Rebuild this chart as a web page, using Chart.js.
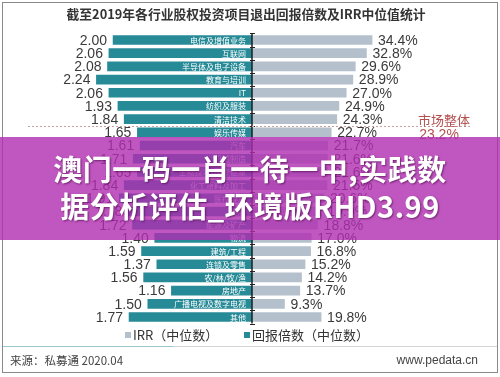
<!DOCTYPE html>
<html lang="zh">
<head>
    <meta charset="UTF-8">
    <title>截至2019年各行业股权投资项目退出回报倍数及IRR中位值统计</title>
    <script src="https://cdn.jsdelivr.net/npm/chart.js"></script>
    <style>
        html, body {
            margin: 0;
            padding: 0;
            background: #fff;
        }
        #wrap {
            position: relative;
            width: 500px;
            height: 377px;
        }
        #banner {
            position: absolute;
            left: 0;
            top: 137px;
            width: 500px;
            height: 103px;
            background: rgba(176, 44, 176, 0.8);
            color: #fff;
            font-family: "Noto Sans CJK SC", sans-serif;
            font-weight: bold;
            font-size: 29px;
            line-height: 37px;
            text-align: center;
            padding-top: 13px;
            box-sizing: border-box;
            text-shadow: 1px 1px 2px rgba(60, 0, 60, 0.6);
            letter-spacing: 0.5px;
        }
    </style>
</head>
<body>
<div id="wrap">
    <canvas id="chart" width="500" height="377"></canvas>
    <div id="banner">澳门一码一肖一待一中,实践数<br>据分析评估_环境版RHD3.99</div>
</div>
<script>
    // data
    const categories = ['电信及增值业务', '互联网', '半导体及电子设备', '教育与培训', 'IT', '纺织及服装', '清洁技术',
        '娱乐传媒', '汽车', '机械制造', '生物技术/医疗健康', '化工原料及加工', '医疗健康', '金融', '能源及矿产',
        '物流', '建筑/工程', '连锁及零售', '农/林/牧/渔', '房地产', '广播电视及数字电视', '其他'];
    const multiples = [2.00, 2.06, 2.08, 2.24, 2.06, 1.93, 1.84, 1.65, 1.61, 1.71, 1.65, 1.84, 1.91, 1.78, 1.72,
        1.40, 1.59, 1.37, 1.56, 1.16, 1.50, 1.77];
    const irr = [34.4, 32.8, 29.6, 28.9, 27.0, 24.9, 24.3, 22.7, 21.7, 21.6, 21.6, 21.5, 20.6, 19.9, 18.8,
        17.0, 16.8, 15.2, 14.2, 13.7, 9.3, 19.8];
    const marketIRR = 23.2;
    const marketRow = 6.5; // dashed line sits between 清洁技术 and 娱乐传媒

    // one multiple unit is drawn as wide as this many IRR points (left half of the butterfly)
    const MULT_TO_PCT = 19.9;

    const TEAL = '#268a97';
    const GREY = '#b5c0cd';
    const NUM_FONT = '"Liberation Sans", Arial, sans-serif';
    const CJK_FONT = '"Noto Sans CJK SC", sans-serif';

    const decorPlugin = {
        id: 'decor',
        afterDatasetsDraw(chart) {
            const ctx = chart.ctx;
            const x = chart.scales.x;
            const y = chart.scales.y;
            const area = chart.chartArea;
            const x0 = x.getPixelForValue(0);

            ctx.save();

            // value labels and category names
            ctx.textBaseline = 'middle';
            categories.forEach((name, i) => {
                const yc = y.getPixelForValue(i);
                const left = x.getPixelForValue(-multiples[i] * MULT_TO_PCT);
                const right = x.getPixelForValue(irr[i]);

                ctx.fillStyle = '#3a3a3a';
                ctx.font = '14px ' + NUM_FONT;
                ctx.textAlign = 'right';
                ctx.fillText(multiples[i].toFixed(2), left - 6, yc + 1);
                ctx.textAlign = 'left';
                ctx.fillText(irr[i].toFixed(1) + '%', right + 6, yc + 1);

                ctx.fillStyle = '#fff';
                ctx.font = '8px ' + CJK_FONT;
                ctx.textAlign = 'right';
                ctx.fillText(name, x0 - 6, yc + 0.5);
            });

            // centre axis with small ticks
            ctx.strokeStyle = '#222';
            ctx.lineWidth = 1.5;
            ctx.beginPath();
            ctx.moveTo(x0, area.top);
            ctx.lineTo(x0, area.bottom);
            ctx.stroke();
            ctx.lineWidth = 1;
            for (let i = 0; i <= categories.length; i++) {
                const yt = Math.round(y.getPixelForValue(i - 0.5)) + 0.5;
                ctx.beginPath();
                ctx.moveTo(x0 - 2, yt);
                ctx.lineTo(x0 + 3, yt);
                ctx.stroke();
            }

            // market overall line
            const ym = Math.round(y.getPixelForValue(marketRow)) + 0.5;
            ctx.strokeStyle = '#c7a0a0';
            ctx.setLineDash([2, 2]);
            ctx.beginPath();
            ctx.moveTo(28, ym);
            ctx.lineTo(472, ym);
            ctx.stroke();
            ctx.setLineDash([]);

            ctx.fillStyle = '#b45050';
            ctx.textAlign = 'center';
            ctx.font = '13px ' + CJK_FONT;
            ctx.fillText('市场整体', 444, ym - 6);
            ctx.font = '14px ' + NUM_FONT;
            ctx.fillText(marketIRR.toFixed(1) + '%', 439, ym + 9);

            ctx.restore();
        },
        afterDraw(chart) {
            const ctx = chart.ctx;
            ctx.save();

            // title
            ctx.fillStyle = '#333';
            ctx.textAlign = 'center';
            ctx.textBaseline = 'middle';
            ctx.font = 'bold 12.8px ' + CJK_FONT;
            ctx.fillText('截至2019年各行业股权投资项目退出回报倍数及IRR中位值统计', 246, 14);

            // legend (IRR first, like the source)
            const items = [
                { label: chart.data.datasets[1].label, color: GREY, x: 125 },
                { label: chart.data.datasets[0].label, color: TEAL, x: 244 }
            ];
            ctx.textAlign = 'left';
            ctx.font = '13px ' + CJK_FONT;
            items.forEach(it => {
                ctx.fillStyle = it.color;
                ctx.fillRect(it.x, 332, 6, 6);
                ctx.fillStyle = '#333';
                ctx.fillText(it.label, it.x + 8, 335);
            });

            // separator and footer
            ctx.fillStyle = '#d4d4d4';
            ctx.fillRect(3, 346, 494, 1);
            ctx.fillStyle = '#9cc7cc';
            ctx.fillRect(3, 346, 170, 1);

            ctx.fillStyle = '#444';
            ctx.font = '11.5px ' + CJK_FONT;
            ctx.fillText('来源：私募通 2020.04', 10, 361);
            ctx.textAlign = 'right';
            ctx.font = '12px ' + NUM_FONT;
            ctx.fillText('www.pedata.cn', 478, 361);

            // outer frame
            ctx.strokeStyle = '#8a8a8a';
            ctx.lineWidth = 1;
            ctx.strokeRect(2.5, 2.5, 495, 370);

            ctx.restore();
        }
    };

    new Chart(document.getElementById('chart'), {
        type: 'bar',
        data: {
            labels: categories,
            datasets: [{
                label: '回报倍数（中位数）',
                data: multiples.map(v => -v * MULT_TO_PCT),
                backgroundColor: TEAL,
                barThickness: 9,
                grouped: false
            }, {
                label: 'IRR（中位数）',
                data: irr,
                backgroundColor: GREY,
                barThickness: 9,
                grouped: false
            }]
        },
        options: {
            indexAxis: 'y',
            responsive: false,
            animation: false,
            devicePixelRatio: 1,
            layout: {
                padding: { top: 33.4, bottom: 53.4, left: 0, right: 0 }
            },
            scales: {
                x: { display: false, min: -72.2, max: 71.06 },
                y: { display: false }
            },
            plugins: {
                legend: { display: false },
                title: { display: false },
                tooltip: { enabled: false }
            }
        },
        plugins: [decorPlugin]
    });
</script>
</body>
</html>
